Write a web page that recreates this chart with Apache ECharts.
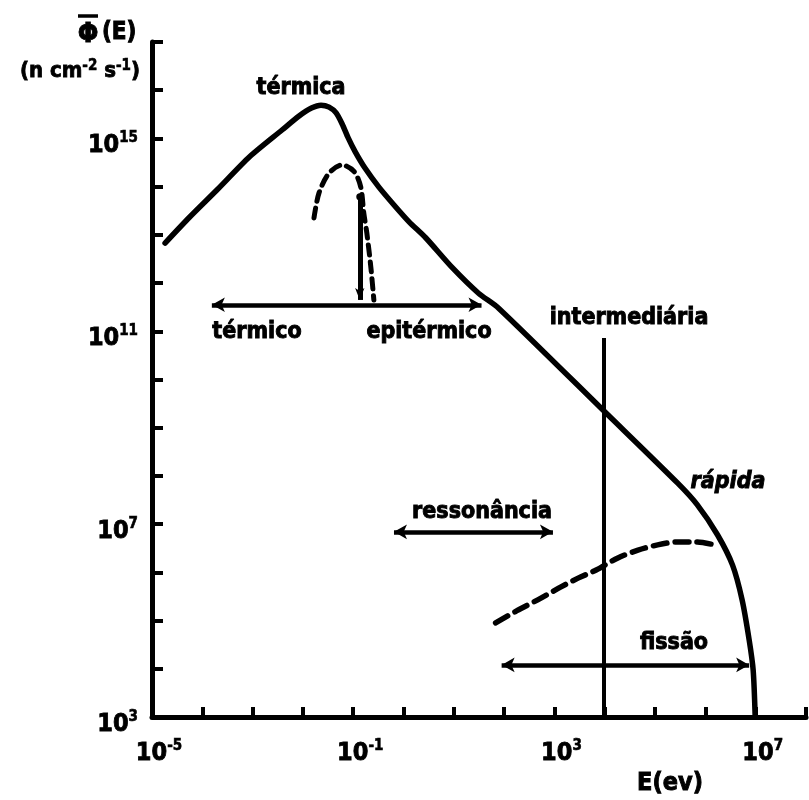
<!DOCTYPE html>
<html>
<head>
<meta charset="utf-8">
<script src="https://cdn.jsdelivr.net/npm/echarts@6/dist/echarts.min.js"></script>
<style>
  html, body { margin: 0; padding: 0; background: #fff; }
  #chart { width: 809px; height: 800px; }
</style>
</head>
<body>
<div id="chart"></div>
<script>
// Neutron flux spectrum in a reactor. Both axes are in decades:
// x = log10 of energy (eV), y = log10 of flux (n cm^-2 s^-1).

// Total flux spectrum
const spectrumLogE = [-4.74, -4.25, -3.71, -3.06, -2.41, -2.07, -1.83, -1.64, -1.48, -1.34, -1.22, -1.10,
                      -0.96, -0.77, -0.49, -0.19, 0.11, 0.44, 0.96, 1.49, 1.89, 4.02, 5.45, 5.84,
                      6.24, 6.54, 6.73, 6.87, 6.95, 6.99];
const spectrumLogFlux = [12.83, 13.37, 13.93, 14.62, 15.18, 15.47, 15.63, 15.69, 15.65, 15.53, 15.30, 15.01,
                         14.72, 14.39, 13.99, 13.62, 13.27, 12.94, 12.33, 11.79, 11.48, 9.31, 7.85, 7.40,
                         6.78, 6.15, 5.43, 4.60, 3.97, 3.00];

// Maxwellian (thermal) component, dashed
const maxwellLogE = [-1.78, -1.68, -1.48, -1.22, -0.98, -0.85, -0.79, -0.73, -0.65, -0.59];
const maxwellLogFlux = [13.35, 13.87, 14.28, 14.45, 14.31, 13.99, 13.45, 13.04, 12.33, 11.65];

// Fission spectrum component, dashed
const fissionLogE = [1.83, 2.28, 2.74, 3.13, 3.47, 3.83, 4.26, 4.66, 5.05, 5.45, 5.84, 6.18];
const fissionLogFlux = [4.95, 5.22, 5.47, 5.70, 5.88, 6.05, 6.30, 6.46, 6.57, 6.63, 6.63, 6.57];

// Range arrows: [from logE, to logE, at logFlux]
const thermalEpithermalRange = [-3.81, 1.55, 11.55];
const resonanceRange = [-0.19, 2.97, 6.84];
const fissionRange = [1.95, 6.87, 4.08];

// Thermal cut-off arrow: [logE, top logFlux, bottom logFlux]
const cutoffArrow = [-0.87, 13.79, 11.65];
// Intermediate-region boundary: [logE, bottom logFlux, top logFlux]
const intermediateLine = [3.98, 3.00, 10.86];

// Labelled decades
const xLabelExp = [-5, -1, 3, 7];
const yLabelExp = [3, 7, 11, 15];

const FONT = '"DejaVu Sans Condensed", "DejaVu Sans", sans-serif';
const INK = '#000';

const pairs = (xs, ys) => xs.map((x, i) => [x, ys[i]]);

const powerRich = {
  b: { fontFamily: FONT, fontWeight: 'bold', fontSize: 25, color: INK, verticalAlign: 'bottom',
       textBorderColor: INK, textBorderWidth: 0.8 },
  s: { fontFamily: FONT, fontWeight: 'bold', fontSize: 15, color: INK, verticalAlign: 'bottom',
       textBorderColor: INK, textBorderWidth: 0.6, padding: [0, 0, 12, 0] }
};

function textEl(text, x, y, opts) {
  return {
    type: 'text', x: x, y: y, silent: true,
    style: Object.assign({
      text: text, fill: INK, font: 'bold 23px ' + FONT,
      align: 'center', verticalAlign: 'middle',
      stroke: INK, lineWidth: 0.9
    }, opts || {})
  };
}

const chart = echarts.init(document.getElementById('chart'), null, { renderer: 'canvas' });

chart.setOption({
  animation: false,
  backgroundColor: '#fff',
  grid: { left: 152, right: 0, top: 42, bottom: 83, containLabel: false },
  xAxis: {
    type: 'value', min: -5, max: 8, interval: 1,
    axisLine: { show: true, onZero: false, lineStyle: { color: INK, width: 5 } },
    axisTick: { show: true, inside: true, length: 10, lineStyle: { color: INK, width: 4 } },
    splitLine: { show: false },
    axisLabel: {
      margin: 22, padding: [0, 0, 0, 14],
      formatter: v => xLabelExp.includes(v) ? '{b|10}{s|' + v + '}' : '',
      rich: powerRich
    }
  },
  yAxis: {
    type: 'value', min: 3, max: 17, interval: 1,
    axisLine: { show: true, onZero: false, lineStyle: { color: INK, width: 5 } },
    axisTick: { show: true, inside: true, length: 11, lineStyle: { color: INK, width: 4 } },
    splitLine: { show: false },
    axisLabel: {
      margin: 14, padding: [12, 0, 0, 0],
      formatter: v => yLabelExp.includes(v) ? '{b|10}{s|' + v + '}' : '',
      rich: powerRich
    }
  },
  series: [
    {
      name: 'spectrum', type: 'line', smooth: 0.25, showSymbol: false, silent: true,
      data: pairs(spectrumLogE, spectrumLogFlux),
      lineStyle: { color: INK, width: 5.5, cap: 'round', join: 'round' }
    },
    {
      name: 'maxwell', type: 'line', smooth: 0.3, showSymbol: false, silent: true,
      data: pairs(maxwellLogE, maxwellLogFlux),
      lineStyle: { color: INK, width: 5, type: [10, 7], cap: 'round' }
    },
    {
      name: 'fission', type: 'line', smooth: 0.3, showSymbol: false, silent: true,
      data: pairs(fissionLogE, fissionLogFlux),
      lineStyle: { color: INK, width: 5.5, type: [14, 8], cap: 'round' }
    },
    {
      name: 'ranges', type: 'line', data: [], silent: true,
      markLine: {
        silent: true, symbol: ['arrow', 'arrow'], symbolSize: [11, 13],
        label: { show: false },
        lineStyle: { color: INK, width: 4.5, type: 'solid' },
        emphasis: { disabled: true },
        data: [thermalEpithermalRange, resonanceRange, fissionRange].map(r => [
          { coord: [r[0], r[2]] }, { coord: [r[1], r[2]] }
        ])
      }
    },
    {
      name: 'cutoff', type: 'line', data: [], silent: true,
      markLine: {
        silent: true, symbol: ['circle', 'arrow'], symbolSize: [7, 12],
        label: { show: false },
        lineStyle: { color: INK, width: 5, type: 'solid' },
        emphasis: { disabled: true },
        data: [[{ coord: [cutoffArrow[0], cutoffArrow[1]] }, { coord: [cutoffArrow[0], cutoffArrow[2]] }]]
      }
    },
    {
      name: 'boundary', type: 'line', data: [], silent: true,
      markLine: {
        silent: true, symbol: ['none', 'none'],
        label: { show: false },
        lineStyle: { color: INK, width: 4, type: 'solid' },
        emphasis: { disabled: true },
        data: [[{ coord: [intermediateLine[0], intermediateLine[1]] }, { coord: [intermediateLine[0], intermediateLine[2]] }]]
      }
    }
  ],
  graphic: [
    // flux symbol with its mean bar
    textEl('Φ', 88, 35, { font: 'bold 27px ' + FONT }),
    { type: 'line', silent: true, shape: { x1: 78, y1: 16, x2: 98, y2: 16 },
      style: { stroke: INK, lineWidth: 3.5 } },
    textEl('(E)', 102, 33, { font: 'bold 24px ' + FONT, align: 'left' }),
    {
      type: 'text', x: 80, y: 71, silent: true,
      style: {
        text: '(n cm{s|-2} s{s|-1})', align: 'center', verticalAlign: 'middle',
        fill: INK, font: 'bold 22px ' + FONT, stroke: INK, lineWidth: 0.8,
        rich: {
          s: { fontFamily: FONT, fontWeight: 'bold', fontSize: 15, fill: INK, stroke: INK, lineWidth: 0.6,
               verticalAlign: 'bottom', padding: [0, 0, 9, 0] }
        }
      }
    },
    textEl('E(ev)', 670, 783, { font: 'bold 25px ' + FONT }),
    textEl('térmica', 301, 88),
    textEl('térmico', 257, 332),
    textEl('epitérmico', 429, 332),
    textEl('intermediária', 629, 318),
    textEl('rápida', 728, 482, { font: 'italic bold 23px ' + FONT }),
    textEl('ressonância', 482, 512),
    textEl('fissão', 674, 643)
  ]
});
</script>
</body>
</html>
